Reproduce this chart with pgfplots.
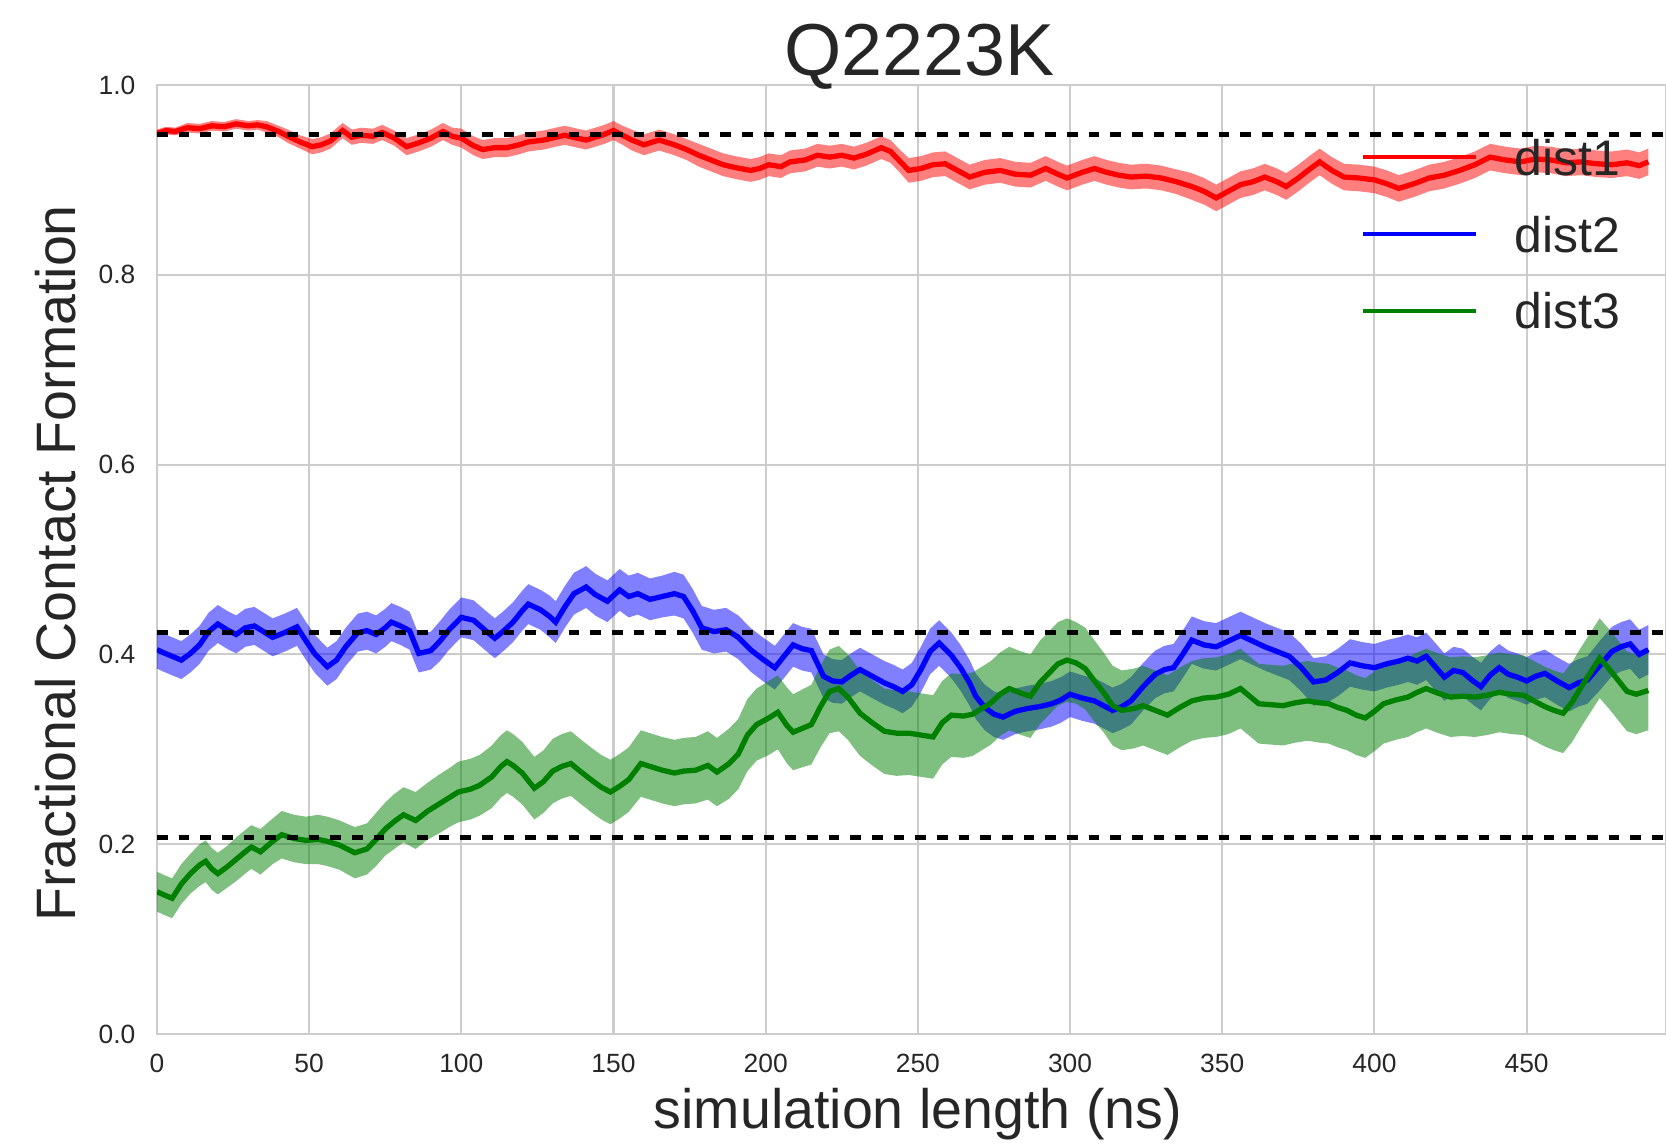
\documentclass[border=0pt]{standalone}
\usepackage{fontspec}
\setmainfont{Liberation Sans}
\usepackage{pgfplots}
\pgfplotsset{compat=1.18}
\usepgfplotslibrary{fillbetween}
\usepackage{pgfplotstable}

\definecolor{txt}{gray}{0.15}
\definecolor{gridc}{gray}{0.8}
\definecolor{mplgreen}{RGB}{0,128,0}

% running mean (m) and half-width of the band (h) for each distance
\pgfplotstableread{
x m h
0 0.949 0.004
3 0.952 0.004
6 0.951 0.004
10 0.955 0.005
14 0.954 0.005
18 0.957 0.005
22 0.956 0.005
26 0.959 0.005
30 0.957 0.005
33 0.958 0.005
36 0.956 0.006
40 0.951 0.006
43 0.946 0.007
47 0.940 0.007
51 0.935 0.008
54 0.937 0.008
57 0.941 0.008
61 0.952 0.008
64 0.945 0.008
67 0.947 0.008
71 0.946 0.008
74 0.950 0.008
78 0.944 0.008
82 0.935 0.009
86 0.939 0.009
90 0.944 0.009
94 0.951 0.009
97 0.946 0.009
100 0.944 0.010
104 0.936 0.010
107 0.932 0.010
111 0.934 0.010
115 0.934 0.010
119 0.937 0.010
122 0.940 0.010
127 0.942 0.010
131 0.945 0.010
134 0.947 0.010
138 0.944 0.010
141 0.942 0.010
144 0.945 0.010
147 0.948 0.010
150 0.952 0.010
153 0.947 0.010
156 0.942 0.011
160 0.937 0.011
165 0.942 0.011
170 0.937 0.011
174 0.932 0.011
178 0.926 0.012
182 0.921 0.012
186 0.916 0.012
190 0.913 0.012
195 0.910 0.012
198 0.912 0.012
201 0.916 0.012
205 0.914 0.012
208 0.919 0.012
213 0.921 0.012
217 0.926 0.012
221 0.924 0.012
225 0.926 0.012
229 0.923 0.012
233 0.927 0.012
238 0.934 0.012
241 0.930 0.012
244 0.920 0.012
247 0.910 0.013
251 0.912 0.013
255 0.916 0.013
259 0.917 0.013
263 0.910 0.013
267 0.903 0.013
272 0.908 0.013
277 0.910 0.013
282 0.906 0.013
287 0.905 0.013
292 0.912 0.013
296 0.906 0.013
299 0.902 0.013
304 0.908 0.013
308 0.912 0.013
312 0.908 0.013
316 0.905 0.013
320 0.903 0.013
325 0.904 0.013
330 0.902 0.013
335 0.898 0.013
340 0.893 0.014
344 0.888 0.014
348 0.881 0.014
352 0.888 0.014
356 0.895 0.014
360 0.898 0.014
364 0.903 0.014
368 0.898 0.014
371 0.893 0.014
375 0.902 0.014
379 0.912 0.014
382 0.919 0.014
386 0.910 0.014
390 0.903 0.014
395 0.902 0.014
400 0.900 0.014
404 0.896 0.014
408 0.891 0.014
413 0.896 0.014
418 0.902 0.014
423 0.905 0.014
428 0.910 0.014
433 0.916 0.014
438 0.924 0.014
443 0.921 0.014
448 0.919 0.014
453 0.922 0.014
458 0.921 0.014
463 0.918 0.014
468 0.919 0.014
473 0.917 0.014
478 0.916 0.014
483 0.918 0.014
487 0.915 0.014
490 0.919 0.014
}\distone

\pgfplotstableread{
x m h
0 0.405 0.020
2 0.402 0.020
5 0.398 0.020
8 0.394 0.020
11 0.401 0.020
14 0.410 0.020
17 0.424 0.020
20 0.432 0.020
23 0.426 0.020
26 0.421 0.020
29 0.428 0.020
32 0.430 0.020
35 0.424 0.020
38 0.418 0.020
42 0.423 0.020
46 0.429 0.020
49 0.414 0.020
52 0.400 0.020
56 0.387 0.020
59 0.394 0.020
62 0.408 0.020
66 0.423 0.020
69 0.425 0.020
72 0.421 0.020
75 0.428 0.020
77 0.434 0.020
80 0.430 0.020
83 0.425 0.020
86 0.401 0.020
90 0.404 0.020
93 0.414 0.021
96 0.426 0.021
100 0.439 0.021
104 0.436 0.021
108 0.425 0.021
111 0.417 0.021
114 0.425 0.021
117 0.434 0.021
120 0.446 0.021
122 0.453 0.021
126 0.447 0.021
129 0.440 0.022
131 0.434 0.022
134 0.450 0.022
137 0.464 0.022
141 0.471 0.022
144 0.463 0.022
148 0.456 0.022
152 0.468 0.022
155 0.461 0.022
158 0.464 0.022
162 0.458 0.022
166 0.461 0.022
170 0.464 0.023
173 0.461 0.023
176 0.446 0.023
179 0.428 0.023
183 0.424 0.023
187 0.426 0.023
191 0.418 0.023
195 0.405 0.023
199 0.395 0.023
203 0.386 0.023
206 0.398 0.023
209 0.410 0.023
212 0.406 0.023
215 0.404 0.023
219 0.377 0.023
222 0.372 0.023
225 0.371 0.023
228 0.378 0.023
231 0.384 0.023
235 0.377 0.023
239 0.370 0.023
242 0.366 0.023
245 0.361 0.023
248 0.368 0.023
251 0.384 0.024
254 0.403 0.024
257 0.412 0.024
261 0.399 0.024
264 0.386 0.024
267 0.370 0.024
269 0.356 0.024
272 0.344 0.024
275 0.337 0.024
278 0.334 0.024
282 0.340 0.024
286 0.343 0.024
290 0.345 0.024
294 0.348 0.024
297 0.352 0.024
300 0.358 0.024
304 0.354 0.024
308 0.351 0.024
311 0.346 0.024
314 0.341 0.024
317 0.345 0.024
320 0.351 0.025
324 0.366 0.025
328 0.379 0.025
331 0.384 0.025
334 0.386 0.025
337 0.400 0.025
340 0.415 0.025
344 0.410 0.025
348 0.408 0.025
352 0.414 0.025
356 0.420 0.025
360 0.414 0.025
364 0.408 0.025
368 0.403 0.025
372 0.398 0.025
376 0.386 0.025
380 0.371 0.025
384 0.373 0.025
388 0.381 0.025
392 0.391 0.025
396 0.388 0.025
400 0.386 0.025
404 0.390 0.025
408 0.393 0.025
411 0.396 0.025
414 0.393 0.025
417 0.398 0.025
420 0.387 0.025
423 0.376 0.025
426 0.383 0.025
429 0.381 0.025
432 0.373 0.025
435 0.366 0.025
438 0.378 0.025
441 0.386 0.025
444 0.379 0.025
447 0.376 0.025
450 0.372 0.025
453 0.377 0.025
456 0.380 0.025
460 0.372 0.025
464 0.365 0.025
467 0.370 0.025
470 0.373 0.025
474 0.388 0.026
478 0.403 0.026
481 0.408 0.026
484 0.411 0.026
487 0.400 0.026
490 0.405 0.026
}\disttwo

\pgfplotstableread{
x m h
0 0.150 0.021
2 0.147 0.021
5 0.143 0.021
8 0.158 0.021
11 0.169 0.021
14 0.178 0.022
16 0.182 0.022
18 0.174 0.022
20 0.169 0.022
23 0.176 0.022
26 0.184 0.023
29 0.192 0.023
31 0.197 0.023
34 0.192 0.024
38 0.203 0.024
41 0.210 0.025
45 0.206 0.025
49 0.204 0.025
53 0.205 0.026
56 0.203 0.026
60 0.199 0.026
65 0.191 0.027
69 0.195 0.027
72 0.205 0.028
75 0.216 0.028
78 0.224 0.029
81 0.231 0.029
85 0.225 0.030
89 0.235 0.030
93 0.243 0.031
96 0.249 0.031
99 0.255 0.032
103 0.258 0.032
106 0.262 0.032
110 0.271 0.033
113 0.282 0.033
115 0.287 0.033
117 0.283 0.033
120 0.275 0.033
124 0.259 0.033
127 0.266 0.033
130 0.277 0.034
133 0.282 0.034
136 0.285 0.034
139 0.277 0.034
143 0.267 0.034
146 0.260 0.034
149 0.255 0.034
152 0.261 0.034
155 0.268 0.034
159 0.285 0.035
163 0.281 0.035
166 0.278 0.035
170 0.275 0.035
173 0.277 0.035
177 0.278 0.035
181 0.283 0.036
184 0.276 0.036
188 0.285 0.037
191 0.295 0.037
194 0.315 0.038
197 0.326 0.038
201 0.333 0.039
204 0.339 0.039
207 0.325 0.040
209 0.318 0.040
212 0.322 0.041
215 0.326 0.042
218 0.345 0.043
221 0.361 0.044
224 0.364 0.045
227 0.355 0.045
231 0.338 0.045
235 0.328 0.045
239 0.319 0.045
243 0.317 0.045
247 0.317 0.044
251 0.315 0.044
255 0.313 0.044
258 0.328 0.044
261 0.336 0.044
265 0.335 0.044
268 0.337 0.044
271 0.343 0.044
274 0.349 0.044
277 0.358 0.044
280 0.364 0.044
284 0.359 0.044
287 0.356 0.044
290 0.370 0.044
293 0.380 0.044
296 0.390 0.044
299 0.394 0.044
302 0.391 0.043
305 0.385 0.043
308 0.372 0.043
311 0.360 0.042
314 0.346 0.042
317 0.341 0.042
321 0.343 0.042
324 0.346 0.042
328 0.341 0.042
332 0.336 0.042
336 0.344 0.042
340 0.351 0.042
344 0.354 0.042
348 0.355 0.042
352 0.358 0.042
356 0.364 0.042
359 0.356 0.042
362 0.348 0.042
366 0.347 0.042
370 0.346 0.042
374 0.349 0.042
378 0.351 0.042
382 0.349 0.042
385 0.348 0.042
388 0.344 0.042
391 0.341 0.042
394 0.336 0.042
397 0.333 0.042
400 0.340 0.042
403 0.348 0.042
407 0.352 0.042
411 0.355 0.042
414 0.360 0.042
417 0.364 0.042
421 0.359 0.042
425 0.355 0.042
429 0.356 0.042
433 0.355 0.042
437 0.357 0.042
441 0.360 0.042
445 0.358 0.042
449 0.357 0.042
453 0.350 0.042
456 0.345 0.042
459 0.341 0.042
462 0.338 0.042
465 0.350 0.042
468 0.366 0.042
471 0.381 0.042
474 0.396 0.042
477 0.385 0.042
480 0.373 0.042
483 0.361 0.042
486 0.358 0.042
490 0.362 0.042
}\distthree

\begin{document}
\begin{tikzpicture}
\begin{axis}[
  name=ax,
  scale only axis,
  width=543.2pt, height=341.6pt,
  xmin=0, xmax=495.8, ymin=0, ymax=1,
  xtick={0,50,100,150,200,250,300,350,400,450},
  ytick={0,0.2,0.4,0.6,0.8,1},
  grid=major,
  major grid style={gridc, line width=0.75pt},
  axis line style={gridc, line width=0.9pt},
  major tick length=0pt,
  /pgf/number format/assume math mode=true,
  tick label style={font=\fontsize{9.5}{11}\selectfont, text=txt, inner sep=0pt},
  yticklabel style={/pgf/number format/.cd, fixed, fixed zerofill, precision=1},
  xticklabel shift=7.2pt,
  yticklabel shift=7.6pt,
  xlabel={simulation length (ns)},
  ylabel={Fractional Contact Formation},
  title={Q2223K},
  every axis x label/.style={at={(axis description cs:0.5042,-0.0992)}, anchor=base,
    font=\fontsize{20}{24}\selectfont, text=txt, inner sep=0pt},
  every axis y label/.style={at={(axis description cs:-0.0538,0.496)}, rotate=90, anchor=base,
    font=\fontsize{20}{24}\selectfont, text=txt, inner sep=0pt},
  every axis title/.style={at={(axis description cs:0.5053,1.0105)}, anchor=base,
    font=\fontsize{26.5}{31}\selectfont, text=txt, inner sep=0pt},
  legend cell align=left,
  legend image code/.code={\draw[#1, line width=1.5pt] (0pt,0pt) -- (40.7pt,0pt);},
  legend style={draw=none, fill=none, inner sep=0pt,
    at={(axis description cs:0.9698,0.9438)}, anchor=north east,
    font=\fontsize{18}{21.6}\selectfont, text=txt,
    row sep=14.65pt,
    nodes={inner sep=0pt, text depth=0pt},
    /tikz/every odd column/.append style={column sep=13.1pt}},
]
% dist1
\addplot[draw=none, name path=r1, forget plot] table[x=x, y expr=\thisrow{m}+\thisrow{h}] {\distone};
\addplot[draw=none, name path=r2, forget plot] table[x=x, y expr=\thisrow{m}-\thisrow{h}] {\distone};
\addplot[fill=red, fill opacity=0.5, draw=none, forget plot] fill between[of=r1 and r2];
\addplot[red, line width=1.9pt] table[x=x, y=m] {\distone};
\addlegendentry{dist1}
% dist2
\addplot[draw=none, name path=b1, forget plot] table[x=x, y expr=\thisrow{m}+\thisrow{h}] {\disttwo};
\addplot[draw=none, name path=b2, forget plot] table[x=x, y expr=\thisrow{m}-\thisrow{h}] {\disttwo};
\addplot[fill=blue, fill opacity=0.5, draw=none, forget plot] fill between[of=b1 and b2];
\addplot[blue, line width=1.9pt] table[x=x, y=m] {\disttwo};
\addlegendentry{dist2}
% dist3
\addplot[draw=none, name path=g1, forget plot] table[x=x, y expr=\thisrow{m}+\thisrow{h}] {\distthree};
\addplot[draw=none, name path=g2, forget plot] table[x=x, y expr=\thisrow{m}-\thisrow{h}] {\distthree};
\addplot[fill=mplgreen, fill opacity=0.5, draw=none, forget plot] fill between[of=g1 and g2];
\addplot[mplgreen, line width=1.9pt] table[x=x, y=m] {\distthree};
\addlegendentry{dist3}
% reference levels
\addplot[black, line width=1.8pt, dash pattern=on 3.8pt off 4pt, forget plot] coordinates {(0,0.948) (495.8,0.948)};
\addplot[black, line width=1.8pt, dash pattern=on 3.8pt off 4pt, forget plot] coordinates {(0,0.423) (495.8,0.423)};
\addplot[black, line width=1.8pt, dash pattern=on 3.8pt off 4pt, forget plot] coordinates {(0,0.207) (495.8,0.207)};
\end{axis}
\pgfresetboundingbox
\useasboundingbox ([shift={(-56.5pt,-40.3pt)}]ax.south west) rectangle ([shift={(0pt,30.6pt)}]ax.north east);
\end{tikzpicture}
\end{document}
